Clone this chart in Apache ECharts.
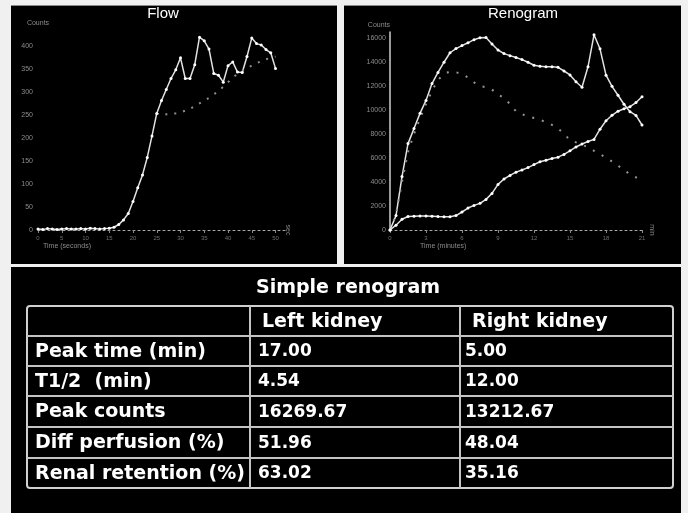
<!DOCTYPE html>
<html>
<head>
<meta charset="utf-8">
<script src="https://cdn.jsdelivr.net/npm/echarts@6/dist/echarts.min.js"></script>
<style>
  html, body { margin: 0; padding: 0; background: #f0f0f0; }
  #wrap { position: relative; width: 688px; height: 513px; overflow: hidden; background: #f0f0f0; }
  .panel { position: absolute; background: #000; }
  #chart { position: absolute; left: 0; top: 0; width: 688px; height: 513px; }
</style>
</head>
<body>
<div id="wrap">
  <div class="panel" style="left:11px;top:5px;width:326px;height:258px;border-top:1px solid #8a8a8a"></div>
  <div class="panel" style="left:344px;top:5px;width:337px;height:258px;border-top:1px solid #8a8a8a"></div>
  <div class="panel" style="left:11px;top:267px;width:670px;height:246px"></div>
  <div id="chart"></div>
</div>
<script>
// Flow curve: counts per second after injection
const flowTime = [0, 1, 2, 3, 4, 5, 6, 7, 8, 9, 10, 11, 12, 13, 14, 15, 16, 17, 18, 19, 20,
  21, 22, 23, 24, 25, 26, 27, 28, 29, 30, 31, 32, 33, 34, 35, 36, 37, 38, 39, 40,
  41, 42, 43, 44, 45, 46, 47, 48, 49, 50];
const flowCounts = [2, 1, 3, 2, 1, 2, 3, 2, 2, 3, 2, 4, 3, 2, 3, 4, 6, 12, 22, 36, 62,
  92, 120, 158, 205, 254, 282, 306, 330, 349, 375, 330, 330, 360, 420, 412, 394, 341, 337, 322, 358,
  366, 344, 343, 378, 418, 406, 403, 393, 386, 352];
const flowTrend = [null, null, null, null, null, null, null, null, null, null, null, null, null, null, null, null, null, null, null, null, null,
  null, null, null, null, 254, 250, 252, 253, 254, 256, 260, 264, 270, 276, 282, 288, 295, 303, 312, 322,
  332, 340, 346, 353, 358, 363, 368, 372, 375, 378];

// Renogram: counts per kidney region, sampled every half minute
const renoTime = [0, 0.5, 1, 1.5, 2, 2.5, 3, 3.5, 4, 4.5, 5, 5.5, 6, 6.5, 7, 7.5, 8, 8.5, 9, 9.5, 10,
  10.5, 11, 11.5, 12, 12.5, 13, 13.5, 14, 14.5, 15, 15.5, 16, 16.5, 17, 17.5, 18, 18.5, 19, 19.5, 20, 20.5, 21];
const leftKidney = [0, 1200, 4450, 7200, 8450, 9720, 10800, 12200, 13130, 13980, 14770, 15120, 15370, 15600, 15860, 16020, 16050, 15500, 15000, 14700, 14530,
  14380, 14200, 13980, 13730, 13650, 13610, 13610, 13560, 13250, 12920, 12350, 11900, 13600, 16269.67, 15100, 12900, 11970, 11230, 10480, 9860, 9550, 8750];
const rightKidney = [0, 1300, 4000, 6500, 8000, 9300, 10500, 11600, 12500, 13000, 13212.67, 13150, 13000, 12700, 12300, 12000, 11900, 11700, 11300, 11000, 10500,
  9900, 9650, 9480, 9330, 9170, 9000, 8760, 8480, 8000, 7500, 7300, 7100, 6900, 6600, 6320, 6020, 5710, 5360, 5000, 4640, 4380, 4300];
const bladder = [0, 400, 900, 1120, 1150, 1170, 1160, 1140, 1120, 1110, 1110, 1200, 1500, 1830, 2050, 2220, 2550, 3050, 3800, 4250, 4550,
  4820, 5000, 5200, 5450, 5690, 5820, 5950, 6070, 6300, 6600, 6920, 7170, 7370, 7550, 8400, 9100, 9560, 9900, 10100, 10280, 10620, 11110];

// Summary table
const tableTitle = 'Simple renogram';
const columnHeads = ['', 'Left kidney', 'Right kidney'];
const rowNames = ['Peak time (min)', 'T1/2  (min)', 'Peak counts', 'Diff perfusion (%)', 'Renal retention (%)'];
const leftValues = ['17.00', '4.54', '16269.67', '51.96', '63.02'];
const rightValues = ['5.00', '12.00', '13212.67', '48.04', '35.16'];

const chart = echarts.init(document.getElementById('chart'), null, { renderer: 'canvas' });

const pairs = (xs, ys) => xs.map((x, i) => [x, ys[i]]);
const plain = v => String(v);
const tickText = { color: '#8c8c8c', fontSize: 7, fontFamily: 'Liberation Sans', formatter: plain };

// table geometry
const tLeft = 27, tRight = 673;
const colX = [tLeft, 250, 460, tRight];
const rowY = [306, 336, 366, 396, 427, 458, 488];
const lineColor = '#c4c4c4';
const labelFont = 'bold 19px "DejaVu Sans"';
const valueFont = 'bold 17px "DejaVu Sans"';

function txt(text, x, y, font, align) {
  return {
    type: 'text', silent: true,
    style: { text, x, y, font, fill: '#fff', textAlign: align || 'left', textVerticalAlign: 'middle',
             align: align || 'left', verticalAlign: 'middle' }
  };
}

const graphics = [];
graphics.push(txt('Flow', 163, 14, '15px "Liberation Sans"', 'center'));
graphics.push(txt('Renogram', 523, 14, '15px "Liberation Sans"', 'center'));
graphics.push({ type: 'text', silent: true, style: { text: 'Time (seconds)', x: 43, y: 246, font: '7px "Liberation Sans"', fill: '#8a8a8a', textVerticalAlign: 'middle', verticalAlign: 'middle' } });
graphics.push({ type: 'text', silent: true, style: { text: 'Time (minutes)', x: 420, y: 246, font: '7px "Liberation Sans"', fill: '#8a8a8a', textVerticalAlign: 'middle', verticalAlign: 'middle' } });

graphics.push(txt(tableTitle, 348, 288, labelFont, 'center'));
graphics.push({
  type: 'rect', silent: true,
  shape: { x: tLeft, y: rowY[0], width: tRight - tLeft, height: rowY[rowY.length - 1] - rowY[0], r: 3 },
  style: { fill: 'none', stroke: '#d0d0d0', lineWidth: 2 }
});
for (let i = 1; i < rowY.length - 1; i++) {
  graphics.push({ type: 'line', silent: true, shape: { x1: tLeft, y1: rowY[i], x2: tRight, y2: rowY[i] },
    style: { stroke: lineColor, lineWidth: 2 } });
}
for (let j = 1; j < colX.length - 1; j++) {
  graphics.push({ type: 'line', silent: true, shape: { x1: colX[j], y1: rowY[0], x2: colX[j], y2: rowY[rowY.length - 1] },
    style: { stroke: lineColor, lineWidth: 2 } });
}
const midY = i => (rowY[i] + rowY[i + 1]) / 2 + 1;
graphics.push(txt(columnHeads[1], 262, midY(0), labelFont));
graphics.push(txt(columnHeads[2], 472, midY(0), labelFont));
rowNames.forEach((name, i) => {
  graphics.push(txt(name, 35, midY(i + 1), labelFont));
  graphics.push(txt(leftValues[i], 258, midY(i + 1), valueFont));
  graphics.push(txt(rightValues[i], 465, midY(i + 1), valueFont));
});

const option = {
  backgroundColor: 'transparent',
  animation: false,
  grid: [
    { left: 38, top: 28, width: 247, height: 202, outerBoundsMode: 'none' },
    { left: 390, top: 32, width: 252, height: 198, outerBoundsMode: 'none' }
  ],
  xAxis: [
    {
      type: 'value', gridIndex: 0, min: 0, max: 52, interval: 5,
      axisLine: { show: true, lineStyle: { color: '#a8a8a8', width: 1, type: [2, 3] } },
      axisTick: { show: true, length: 3, lineStyle: { color: '#8a8a8a' } },
      axisLabel: { margin: 5, fontSize: 6, color: '#6e6e6e', showMaxLabel: false },
      splitLine: { show: false },
      name: 'sec', nameLocation: 'end', nameGap: 3, nameRotate: -90,
      nameTextStyle: { color: '#8a8a8a', fontSize: 7, verticalAlign: 'middle' }
    },
    {
      type: 'value', gridIndex: 1, min: 0, max: 21, interval: 3,
      axisLine: { show: true, lineStyle: { color: '#a8a8a8', width: 1, type: [2, 3] } },
      axisTick: { show: true, length: 3, lineStyle: { color: '#8a8a8a' } },
      axisLabel: { margin: 5, fontSize: 6, color: '#6e6e6e' },
      splitLine: { show: false },
      name: 'min', nameLocation: 'end', nameGap: 4, nameRotate: -90,
      nameTextStyle: { color: '#8a8a8a', fontSize: 7, verticalAlign: 'middle' }
    }
  ],
  yAxis: [
    {
      type: 'value', gridIndex: 0, min: 0, max: 440, interval: 50,
      axisLine: { show: false }, axisTick: { show: false }, splitLine: { show: false },
      axisLabel: Object.assign({ margin: 5, showMaxLabel: false }, tickText),
      name: 'Counts', nameLocation: 'end', nameGap: 1,
      nameTextStyle: { color: '#8c8c8c', fontSize: 7, align: 'center' }
    },
    {
      type: 'value', gridIndex: 1, min: 0, max: 16500, interval: 2000,
      axisLine: { show: true, lineStyle: { color: '#cfcfcf', width: 1.5 } },
      axisTick: { show: false }, splitLine: { show: false },
      axisLabel: Object.assign({ margin: 4, showMaxLabel: false }, tickText),
      name: 'Counts', nameLocation: 'end', nameGap: 3,
      nameTextStyle: { color: '#8c8c8c', fontSize: 7, align: 'right' }
    }
  ],
  series: [
    {
      name: 'Flow', type: 'line', xAxisIndex: 0, yAxisIndex: 0,
      data: pairs(flowTime, flowCounts),
      symbol: 'circle', symbolSize: 3, showSymbol: true,
      lineStyle: { color: '#e2e2e2', width: 1.5 }, itemStyle: { color: '#ffffff' }, z: 3
    },
    {
      name: 'Flow trend', type: 'line', xAxisIndex: 0, yAxisIndex: 0,
      data: pairs(flowTime, flowTrend), connectNulls: false,
      symbol: 'none', lineStyle: { color: '#8e8e8e', width: 2, type: [2, 7] }
    },
    {
      name: 'Left kidney', type: 'line', xAxisIndex: 1, yAxisIndex: 1,
      data: pairs(renoTime, leftKidney),
      symbol: 'circle', symbolSize: 3, showSymbol: true,
      lineStyle: { color: '#e2e2e2', width: 1.5 }, itemStyle: { color: '#ffffff' }, z: 3
    },
    {
      name: 'Right kidney', type: 'line', xAxisIndex: 1, yAxisIndex: 1,
      data: pairs(renoTime, rightKidney),
      symbol: 'none', lineStyle: { color: '#949494', width: 2, type: [2, 8] }
    },
    {
      name: 'Bladder', type: 'line', xAxisIndex: 1, yAxisIndex: 1,
      data: pairs(renoTime, bladder),
      symbol: 'circle', symbolSize: 3, showSymbol: true,
      lineStyle: { color: '#e2e2e2', width: 1.5 }, itemStyle: { color: '#ffffff' }, z: 3
    }
  ],
  graphic: { elements: graphics }
};

chart.setOption(option);
</script>
</body>
</html>
